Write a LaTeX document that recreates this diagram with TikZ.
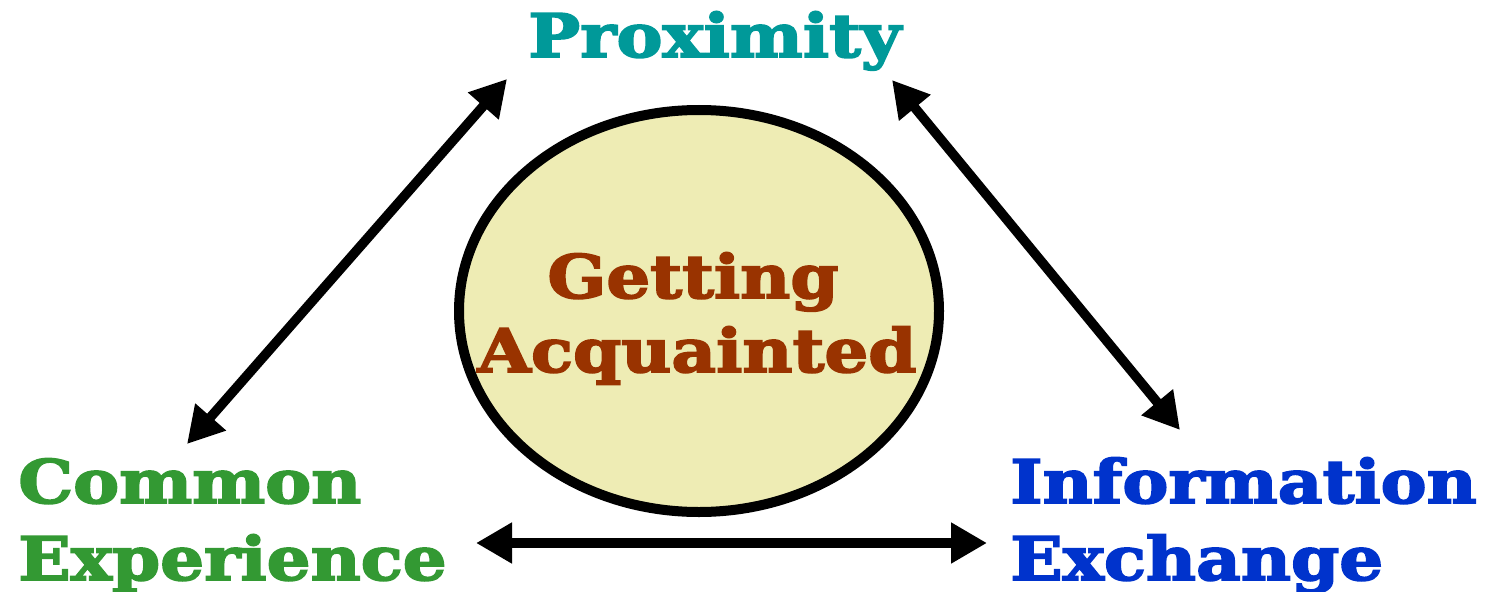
\documentclass[tikz,border=0pt]{standalone}
\usepackage{fontspec}
\usetikzlibrary{arrows.meta}
\newfontfamily\slabfont{DejaVu Serif}[FakeStretch=1.15,FakeBold=3]
\definecolor{proxcol}{HTML}{009999}
\definecolor{commcol}{HTML}{339933}
\definecolor{infocol}{HTML}{0033CC}
\definecolor{getcol}{HTML}{993300}
\definecolor{ovalfill}{RGB}{238,236,180}
\begin{document}
\begin{tikzpicture}[x=0.75pt,y=-0.75pt,
  label text/.style={inner sep=0pt,anchor=base west,
    font=\slabfont\bfseries\fontsize{45}{57.75}\selectfont},
  link/.style={line width=7.2pt,{Triangle[length=27pt,width=29pt]}-{Triangle[length=27pt,width=29pt]}}]
\useasboundingbox (0,0) rectangle (1492,592);
% central oval
\draw[line width=7.5pt,fill=ovalfill] (699,311) ellipse [x radius=240,y radius=201];
\node[label text,anchor=base,text=getcol] (get1) at (693,298) {Getting};
\node[label text,anchor=base,text=getcol] (get2) at (697,372) {Acquainted};
% corner labels
\node[label text,text=proxcol] (prox) at (528,57) {Proximity};
\node[label text,text=commcol] (comm1) at (18,503) {Common};
\node[label text,text=commcol] (comm2) at (18,580) {Experience};
\node[label text,text=infocol] (info1) at (1010,503) {Information};
\node[label text,text=infocol] (info2) at (1010,580) {Exchange};
% arrow end points
\coordinate (pl) at (507,79);
\coordinate (cl) at (187,444);
\coordinate (pr) at (892,80);
\coordinate (ir) at (1180,430);
\coordinate (ch) at (476,543);
\coordinate (ih) at (987,543);
\draw[link] (cl) -- (pl);
\draw[link] (pr) -- (ir);
\draw[link] (ch) -- (ih);
\end{tikzpicture}
\end{document}
